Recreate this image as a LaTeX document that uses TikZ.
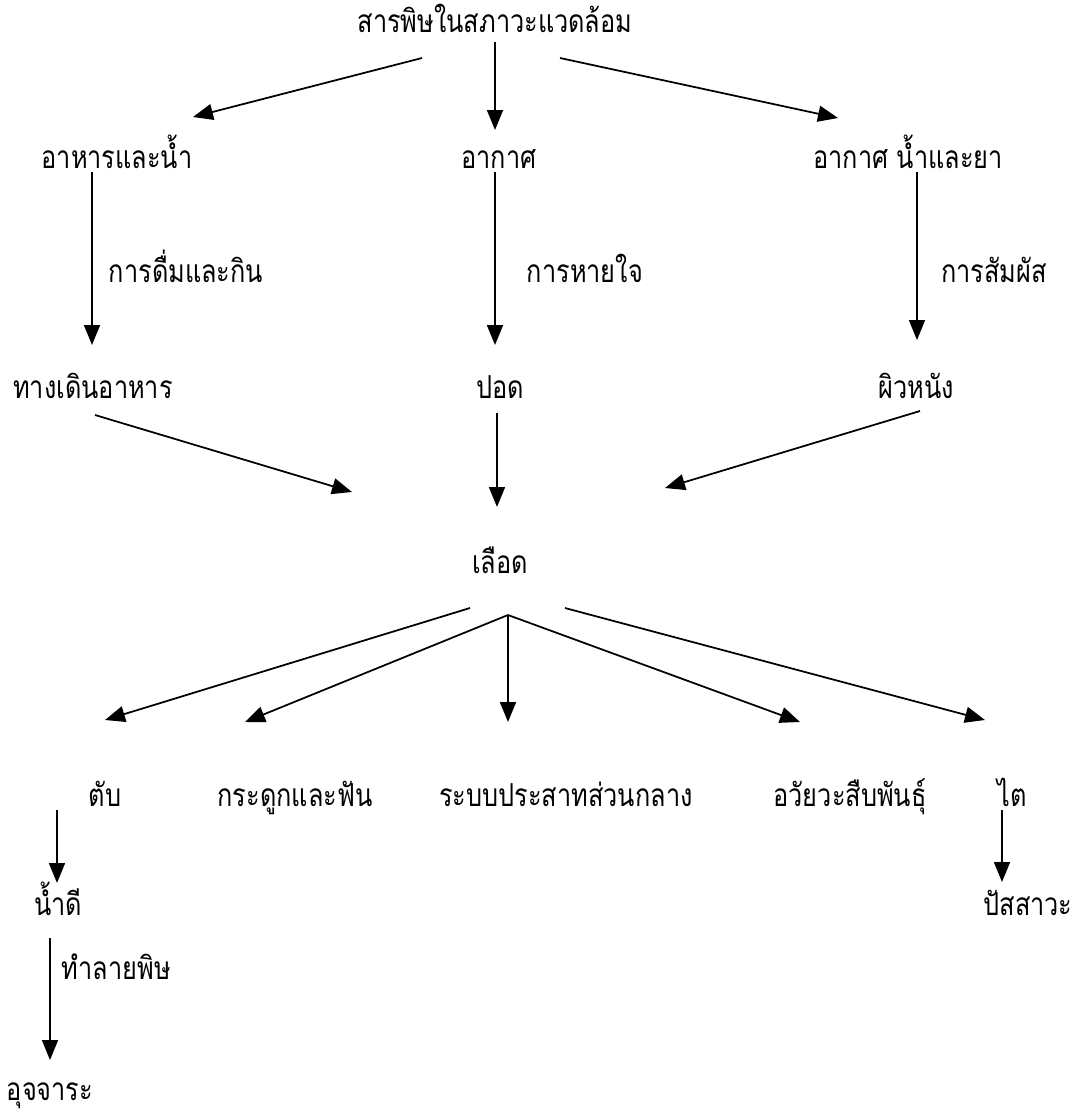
\documentclass[tikz,border=0pt]{standalone}
\usepackage{fontspec}
\newfontfamily\thaifont[Script=Thai, FakeStretch=0.8]{Loma}
\usetikzlibrary{arrows.meta}

\begin{document}
\begin{tikzpicture}[x=0.02cm, y=-0.02cm,
    lbl/.style={font={\thaifont\fontsize{18}{20}\selectfont}, inner sep=2pt, anchor=base},
    arr/.style={-{Triangle[length=0.4cm, width=0.32cm]}, line width=1pt}]
    \useasboundingbox (0,0) rectangle (1083,1113);

    % Source
    \node[lbl] (toxin) at (495, 32) {สารพิษในสภาวะแวดล้อม};

    % Routes
    \node[lbl] (food) at (117, 168) {อาหารและน้ำ};
    \node[lbl] (air) at (499, 168) {อากาศ};
    \node[lbl] (airdrug) at (908, 168) {อากาศ น้ำและยา};

    % Organs of entry
    \node[lbl] (gi) at (93, 398) {ทางเดินอาหาร};
    \node[lbl] (lung) at (500, 398) {ปอด};
    \node[lbl] (skin) at (916, 398) {ผิวหนัง};

    % Blood
    \node[lbl] (blood) at (500, 573) {เลือด};

    % Target organs
    \node[lbl] (liver) at (105, 806) {ตับ};
    \node[lbl] (bone) at (295, 806) {กระดูกและฟัน};
    \node[lbl] (cns) at (566, 806) {ระบบประสาทส่วนกลาง};
    \node[lbl] (repro) at (850, 806) {อวัยวะสืบพันธุ์};
    \node[lbl] (kidney) at (1012, 806) {ไต};

    % Excretion
    \node[lbl] (bile) at (58, 915) {น้ำดี};
    \node[lbl] (urine) at (1028, 915) {ปัสสาวะ};
    \node[lbl] (feces) at (50, 1100) {อุจจาระ};

    % Relations
    \draw[arr] ([shift={(-73,26)}]toxin.base) -- ([shift={(76,-51)}]food.base);
    \draw[arr] ([shift={(0,10)}]toxin.base) -- ([shift={(-4,-38)}]air.base);
    \draw[arr] ([shift={(65,26)}]toxin.base) -- ([shift={(-70,-50)}]airdrug.base);

    \draw[arr] ([shift={(-25,4)}]food.base) -- ([shift={(-1,-53)}]gi.base)
        node[lbl, pos=0.64, anchor=base west, xshift=0.25cm] {การดื่มและกิน};
    \draw[arr] ([shift={(-4,4)}]air.base) -- ([shift={(-5,-53)}]lung.base)
        node[lbl, pos=0.64, anchor=base west, xshift=0.55cm] {การหายใจ};
    \draw[arr] ([shift={(9,4)}]airdrug.base) -- ([shift={(1,-58)}]skin.base)
        node[lbl, pos=0.66, anchor=base west, xshift=0.4cm] {การสัมผัส};

    \draw[arr] ([shift={(2,17)}]gi.base) -- ([shift={(-148,-81)}]blood.base);
    \draw[arr] ([shift={(-3,15)}]lung.base) -- ([shift={(-3,-66)}]blood.base);
    \draw[arr] ([shift={(4,13)}]skin.base) -- ([shift={(165,-85)}]blood.base);

    \draw[arr] ([shift={(-30,35)}]blood.base) -- ([shift={(0,-86)}]liver.base);
    \draw[arr] ([shift={(8,42)}]blood.base) -- ([shift={(-50,-84)}]bone.base);
    \draw[arr] ([shift={(8,42)}]blood.base) -- ([shift={(-58,-84)}]cns.base);
    \draw[arr] ([shift={(8,42)}]blood.base) -- ([shift={(-50,-84)}]repro.base);
    \draw[arr] ([shift={(65,35)}]blood.base) -- ([shift={(-27,-86)}]kidney.base);

    \draw[arr] ([shift={(-48,4)}]liver.base) -- ([shift={(-1,-32)}]bile.base);
    \draw[arr] ([shift={(-10,4)}]kidney.base) -- ([shift={(-26,-33)}]urine.base);
    \draw[arr] ([shift={(-8,23)}]bile.base) -- ([shift={(0,-40)}]feces.base)
        node[lbl, pos=0.34, anchor=base west, xshift=0.15cm] {ทำลายพิษ};
\end{tikzpicture}
\end{document}
